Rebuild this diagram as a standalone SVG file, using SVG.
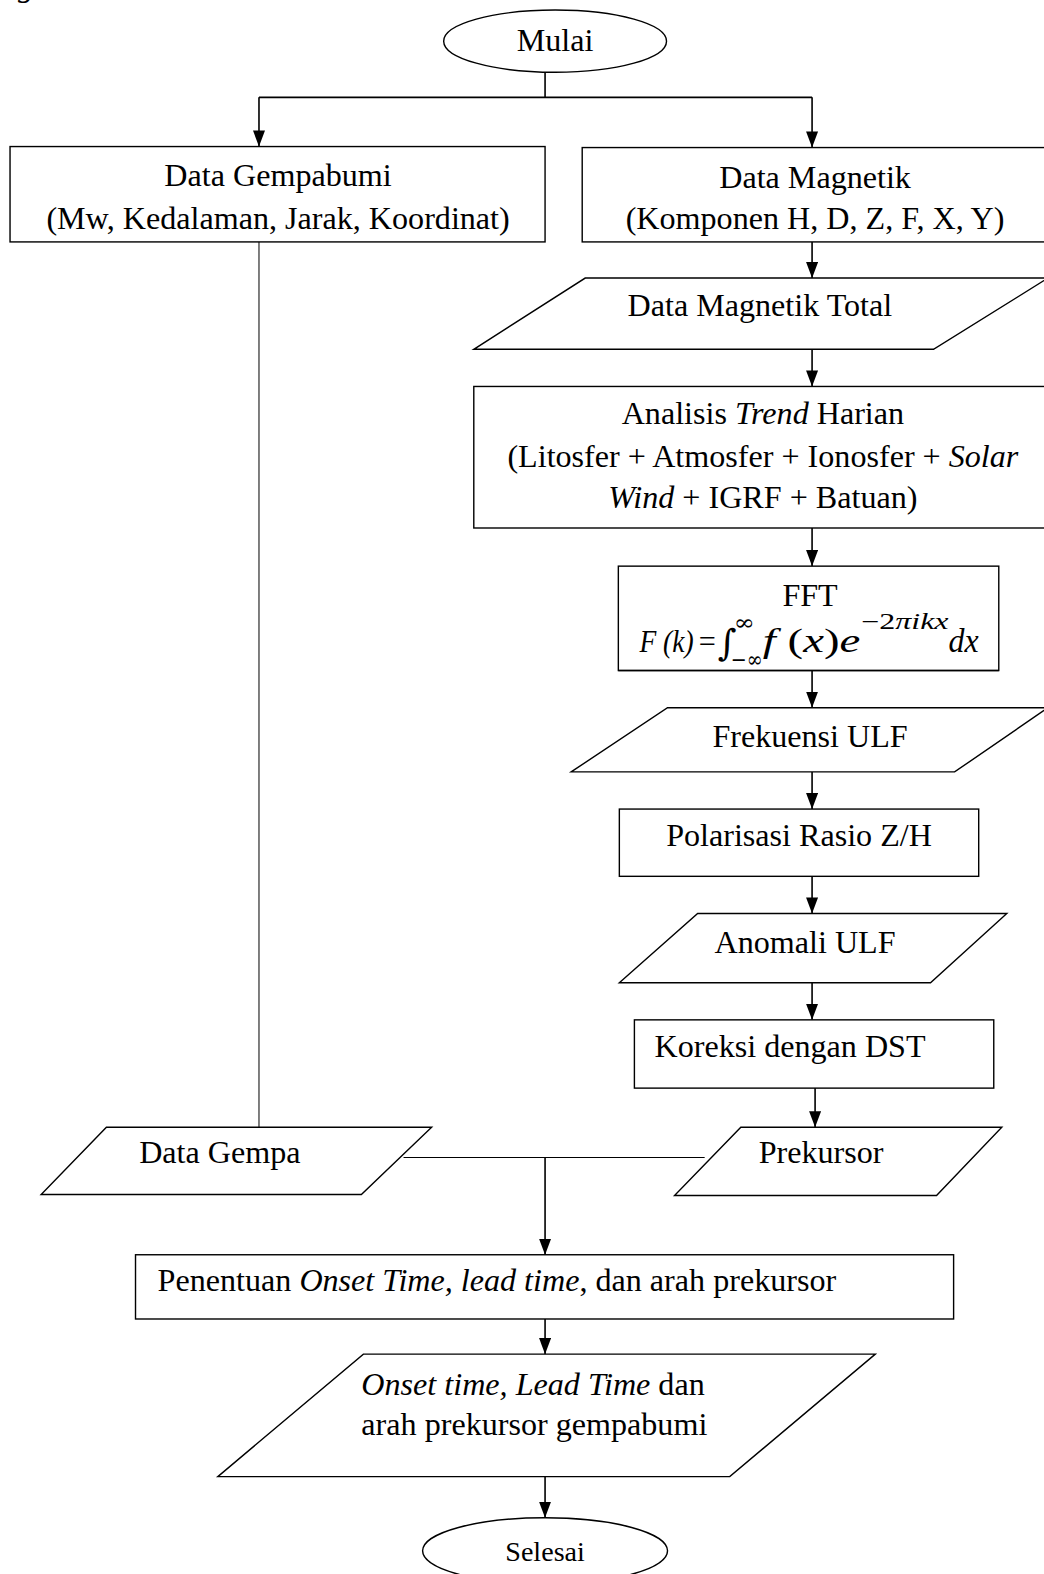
<svg xmlns="http://www.w3.org/2000/svg" width="1044" height="1574" viewBox="0 0 1044 1574">
<style>
text{font-family:"Liberation Serif","Times New Roman",serif;font-size:32px;fill:#000}
.c{text-anchor:middle}
.i{font-style:italic}
.s{fill:#fff;stroke:#000;stroke-width:1.4}
.ln{fill:none;stroke:#000;stroke-width:1.6}
.th{fill:none;stroke:#000;stroke-width:1}
.m{font-family:"DejaVu Serif","Liberation Serif",serif}
</style>
<defs>
<marker id="ah" markerWidth="16" markerHeight="12" refX="16" refY="6" orient="auto" markerUnits="userSpaceOnUse" viewBox="0 0 16 12">
<path d="M0,0 L16,6 L0,12 Z" fill="#000"/>
</marker>
</defs>
<rect width="1044" height="1574" fill="#fff"/>
<g transform="scale(1.0038)">
<text class="i" x="18" y="-4">g</text>
<g id="connectors">
<line class="ln" x1="543" y1="72" x2="543" y2="97"/>
<line class="ln" x1="258" y1="97" x2="809" y2="97"/>
<line class="ln" x1="258" y1="97" x2="258" y2="146" marker-end="url(#ah)"/>
<line class="ln" x1="809" y1="97" x2="809" y2="147" marker-end="url(#ah)"/>
<line class="ln" x1="809" y1="241" x2="809" y2="277" marker-end="url(#ah)"/>
<line class="ln" x1="809" y1="348" x2="809" y2="385" marker-end="url(#ah)"/>
<line class="ln" x1="809" y1="526" x2="809" y2="564" marker-end="url(#ah)"/>
<line class="ln" x1="809" y1="668" x2="809" y2="705" marker-end="url(#ah)"/>
<line class="ln" x1="809" y1="769" x2="809" y2="806" marker-end="url(#ah)"/>
<line class="ln" x1="809" y1="873" x2="809" y2="910" marker-end="url(#ah)"/>
<line class="ln" x1="809" y1="979" x2="809" y2="1016" marker-end="url(#ah)"/>
<line class="ln" x1="812" y1="1084" x2="812" y2="1123" marker-end="url(#ah)"/>
<line class="th" x1="258" y1="241" x2="258" y2="1123"/>
<line class="th" x1="402" y1="1153" x2="702" y2="1153"/>
<line class="ln" x1="543" y1="1153" x2="543" y2="1250" marker-end="url(#ah)"/>
<line class="ln" x1="543" y1="1314" x2="543" y2="1349" marker-end="url(#ah)"/>
<line class="ln" x1="543" y1="1471" x2="543" y2="1512" marker-end="url(#ah)"/>
</g>
<g id="mulai">
<ellipse class="s" cx="553" cy="41" rx="111" ry="31"/>
<text class="c" x="553" y="51">Mulai</text>
</g>
<g id="data-gempabumi">
<rect class="s" x="10" y="146" width="533" height="95"/>
<text class="c" x="277" y="185">Data Gempabumi</text>
<text class="c" x="277" y="228">(Mw, Kedalaman, Jarak, Koordinat)</text>
</g>
<g id="data-magnetik">
<rect class="s" x="580" y="147" width="480" height="94"/>
<text class="c" x="812" y="187">Data Magnetik</text>
<text class="c" x="812" y="228">(Komponen H, D, Z, F, X, Y)</text>
</g>
<g id="data-magnetik-total">
<polygon class="s" points="583,277 1044,277 930,348 472,348"/>
<text class="c" x="757" y="315">Data Magnetik Total</text>
</g>
<g id="analisis-trend">
<rect class="s" x="472" y="385" width="590" height="141"/>
<text class="c" x="760" y="422">Analisis <tspan class="i">Trend</tspan> Harian</text>
<text class="c" x="760" y="465">(Litosfer + Atmosfer + Ionosfer + <tspan class="i">Solar</tspan></text>
<text class="c" x="760" y="506"><tspan class="i">Wind</tspan> + IGRF + Batuan)</text>
</g>
<g id="fft">
<rect class="s" x="616" y="564" width="379" height="104"/>
<text class="c" x="807" y="604">FFT</text>
<text x="637" y="650" class="i" textLength="54" lengthAdjust="spacingAndGlyphs">F (k)</text>
<text x="696" y="650" textLength="17" lengthAdjust="spacingAndGlyphs">=</text>
<text x="715" y="653" class="m" style="font-size:36px">∫</text>
<text x="731" y="628" class="m" style="font-size:22px" textLength="21" lengthAdjust="spacingAndGlyphs">∞</text>
<text x="728" y="664" class="m" style="font-size:22px" textLength="32" lengthAdjust="spacingAndGlyphs">−∞</text>
<text x="760" y="650" style="font-size:33px" textLength="97" lengthAdjust="spacingAndGlyphs"><tspan font-style="italic">f</tspan> (<tspan font-style="italic">x</tspan>)<tspan font-style="italic">e</tspan></text>
<text x="858" y="627" style="font-size:22px" textLength="87" lengthAdjust="spacingAndGlyphs">−2<tspan font-style="italic">πikx</tspan></text>
<text x="945" y="650" class="i" style="font-size:33px" textLength="30" lengthAdjust="spacingAndGlyphs">dx</text>
<line x1="616" y1="668" x2="995" y2="668" stroke="#000" stroke-width="1.4"/>
</g>
<g id="frekuensi-ulf">
<polygon class="s" points="665,705 1044,705 951,769 569,769"/>
<text class="c" x="807" y="744">Frekuensi ULF</text>
</g>
<g id="polarisasi">
<rect class="s" x="617" y="806" width="358" height="67"/>
<text class="c" x="796" y="843">Polarisasi Rasio Z/H</text>
</g>
<g id="anomali-ulf">
<polygon class="s" points="695,910 1003,910 927,979 617,979"/>
<text class="c" x="802" y="949">Anomali ULF</text>
</g>
<g id="koreksi">
<rect class="s" x="632" y="1016" width="358" height="68"/>
<text x="652" y="1053">Koreksi dengan DST</text>
</g>
<g id="prekursor">
<polygon class="s" points="738,1123 998,1123 933,1191 672,1191"/>
<text class="c" x="818" y="1159">Prekursor</text>
</g>
<g id="data-gempa">
<polygon class="s" points="106,1123 430,1123 360,1190 41,1190"/>
<text class="c" x="219" y="1159">Data Gempa</text>
</g>
<g id="penentuan">
<rect class="s" x="135" y="1250" width="815" height="64"/>
<text x="157" y="1286">Penentuan <tspan class="i">Onset Time, lead time</tspan>, dan arah prekursor</text>
</g>
<g id="onset-output">
<polygon class="s" points="362,1349 872,1349 727,1471 217,1471"/>
<text x="360" y="1390"><tspan class="i">Onset time, Lead Time</tspan> dan</text>
<text x="360" y="1430">arah prekursor gempabumi</text>
</g>
<g id="selesai">
<ellipse class="s" cx="543" cy="1545" rx="122" ry="33"/>
<text class="c" x="543" y="1555" style="font-size:28px">Selesai</text>
</g>
</g>
</svg>
